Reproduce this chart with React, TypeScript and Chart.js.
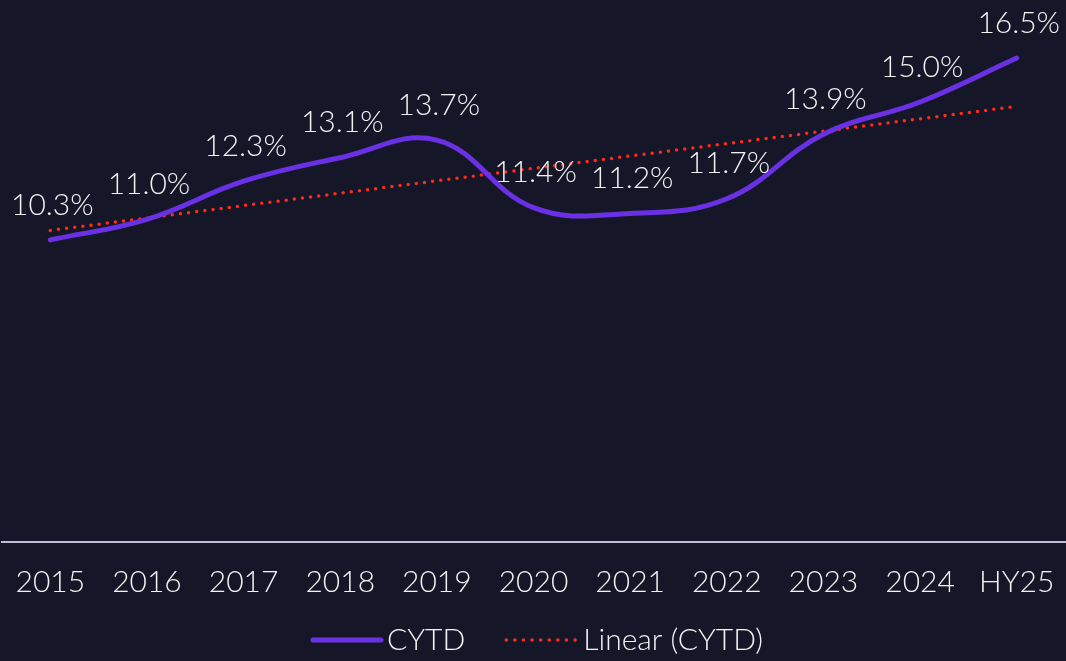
import React, { useEffect, useRef } from "react";
import { Chart, registerables } from "chart.js";

Chart.register(...registerables);

const categories = ["2015", "2016", "2017", "2018", "2019", "2020", "2021", "2022", "2023", "2024", "HY25"];
const cytd = [10.3, 11.0, 12.3, 13.1, 13.7, 11.4, 11.2, 11.7, 13.9, 15.0, 16.5];
const seriesNames = ["CYTD", "Linear (CYTD)"];

const BG = "#151729";
const FONT = "Lato, 'Noto Sans', sans-serif";
const TEXT = "#f2f2f2";
const PURPLE = "#6a30e4";
const RED = "#ff2a18";

function linearTrend(values: number[]): number[] {
  const n = values.length;
  const mx = (n - 1) / 2;
  const my = values.reduce((a, b) => a + b, 0) / n;
  let sxy = 0;
  let sxx = 0;
  values.forEach((v, i) => {
    sxy += (i - mx) * (v - my);
    sxx += (i - mx) * (i - mx);
  });
  const slope = sxy / sxx;
  return values.map((_, i) => my + slope * (i - mx));
}

const labelPlugin = {
  id: "valueLabels",
  afterDatasetsDraw(chart: any) {
    const ctx = chart.ctx;
    const meta = chart.getDatasetMeta(0);
    ctx.save();
    ctx.font = `300 30px ${FONT}`;
    ctx.fillStyle = TEXT;
    ctx.textAlign = "center";
    ctx.textBaseline = "middle";
    meta.data.forEach((pt: any, i: number) => {
      ctx.fillText(cytd[i].toFixed(1) + "%", pt.x + 2, pt.y - 35);
    });
    ctx.restore();
  },
};

const legendPlugin = {
  id: "customLegend",
  afterDraw(chart: any) {
    const ctx = chart.ctx;
    ctx.save();
    ctx.font = `300 30px ${FONT}`;
    ctx.textBaseline = "middle";
    ctx.textAlign = "left";
    const w1 = ctx.measureText(seriesNames[0]).width;
    const w2 = ctx.measureText(seriesNames[1]).width;
    const s1 = 72, g1 = 4, gap = 40, s2 = 70, g2 = 8;
    const total = s1 + g1 + w1 + gap + s2 + g2 + w2;
    let x = chart.width / 2 - total / 2 + 4;
    const y = 640;
    const ds = chart.data.datasets;
    // sample 1
    ctx.strokeStyle = ds[0].borderColor;
    ctx.lineWidth = 5;
    ctx.lineCap = "round";
    ctx.setLineDash([]);
    ctx.beginPath();
    ctx.moveTo(x + 2, y);
    ctx.lineTo(x + s1 - 2, y);
    ctx.stroke();
    x += s1 + g1;
    ctx.fillStyle = TEXT;
    ctx.fillText(seriesNames[0], x, y);
    x += w1 + gap;
    // sample 2
    ctx.strokeStyle = ds[1].borderColor;
    ctx.lineWidth = 3.5;
    ctx.setLineDash([0, 8.6]);
    ctx.beginPath();
    ctx.moveTo(x + 1, y);
    ctx.lineTo(x + s2, y);
    ctx.stroke();
    ctx.setLineDash([]);
    x += s2 + g2;
    ctx.fillText(seriesNames[1], x, y);
    ctx.restore();
  },
};

export default function App() {
  const ref = useRef<HTMLCanvasElement>(null);
  useEffect(() => {
    document.body.style.margin = "0";
    document.body.style.background = BG;
    const chart = new Chart(ref.current!, {
      type: "line",
      data: {
        labels: categories,
        datasets: [
          {
            label: seriesNames[0],
            data: cytd,
            borderColor: PURPLE,
            backgroundColor: PURPLE,
            borderWidth: 5,
            borderCapStyle: "round",
            tension: 0.4,
            pointRadius: 0,
          },
          {
            label: seriesNames[1],
            data: linearTrend(cytd),
            borderColor: RED,
            backgroundColor: RED,
            borderWidth: 3.5,
            borderDash: [0, 8.2],
            borderCapStyle: "round",
            pointRadius: 0,
          },
        ],
      },
      options: {
        animation: false,
        responsive: false,
        maintainAspectRatio: false,
        layout: { padding: { top: 14, left: 2, right: 1, bottom: 0 } },
        plugins: {
          legend: { display: false },
          tooltip: { enabled: false },
        },
        scales: {
          x: {
            offset: true,
            grid: { display: false, drawTicks: false },
            border: { display: true, color: "#bdbdd6", width: 2 },
            ticks: {
              color: TEXT,
              padding: 22,
              maxRotation: 0,
              autoSkip: false,
              font: { family: FONT, size: 30, weight: "300" as any },
            },
            afterFit(scale: any) {
              scale.height = 119;
              scale.paddingLeft = 0;
              scale.paddingRight = 0;
            },
          },
          y: {
            display: false,
            min: 0,
            max: 18,
          },
        },
      },
      plugins: [labelPlugin, legendPlugin],
    });
    return () => chart.destroy();
  }, []);
  return (
    <div style={{ width: 1066, height: 661, background: BG }}>
      <canvas ref={ref} width={1066} height={661} style={{ display: "block" }} />
    </div>
  );
}
